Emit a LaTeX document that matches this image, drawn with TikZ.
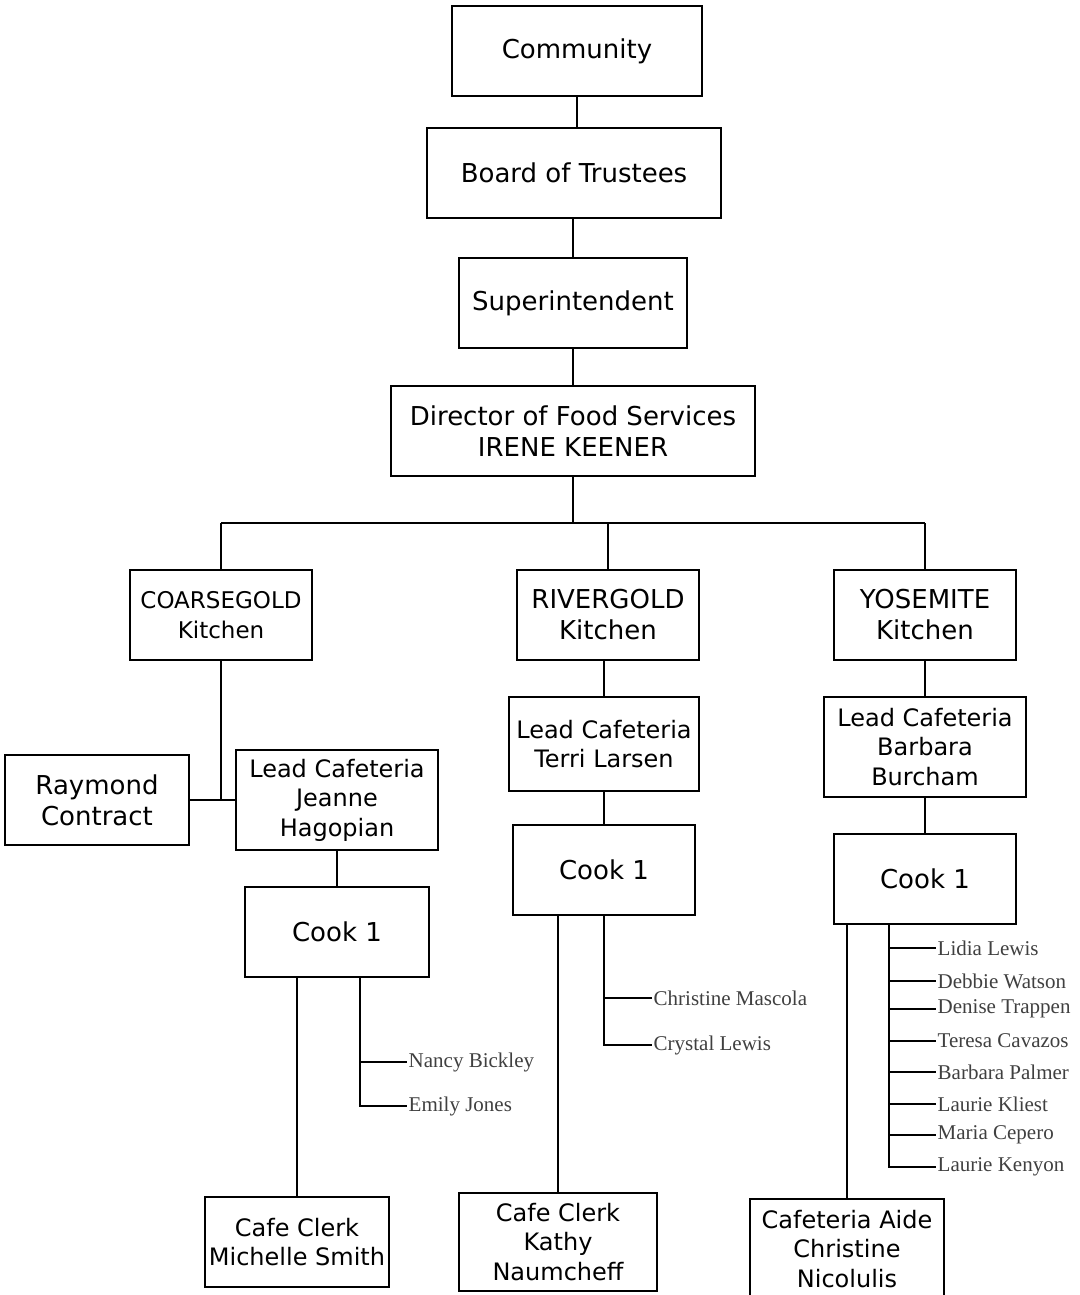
\documentclass[tikz,border=0pt]{standalone}
\usepackage{fontspec}
\newfontfamily\boxfont{DejaVu Sans}
\newfontfamily\namefont{Liberation Serif}
\begin{document}
\begin{tikzpicture}[x=1pt,y=-1pt,
  box/.style={draw, line width=1.8pt, inner sep=0pt, align=center, font=\boxfont\fontsize{26}{31}\selectfont},
  smallbox/.style={box, font=\boxfont\fontsize{24}{29.5}\selectfont},
  coarsebox/.style={box, font=\boxfont\fontsize{23}{30}\selectfont},
  person/.style={anchor=west, inner sep=1.5pt, text=black!75, font=\namefont\fontsize{21}{24}\selectfont},
  link/.style={line width=1.8pt}]
\fill[white] (0,0) rectangle (1079,1295);
\clip (0,0) rectangle (1079,1295);
% top chain
\node[box, minimum width=250pt, minimum height=90pt] (comm) at (577,51) {Community};
\node[box, minimum width=294pt, minimum height=90pt] (board) at (574,173) {Board of Trustees};
\node[box, minimum width=228pt, minimum height=90pt] (sup) at (573,303) {Superintendent};
\node[box, minimum width=364pt, minimum height=90pt] (dir) at (573,431) {Director of Food Services\\IRENE KEENER};
% kitchens
\node[coarsebox, minimum width=182pt, minimum height=90pt] (coarse) at (221,615) {COARSEGOLD\\Kitchen};
\node[box, minimum width=182pt, minimum height=90pt] (river) at (608,615) {RIVERGOLD\\Kitchen};
\node[box, minimum width=182pt, minimum height=90pt] (yos) at (925,615) {YOSEMITE\\Kitchen};
% second level
\node[box, minimum width=184pt, minimum height=90pt] (raymond) at (97,800) {Raymond\\Contract};
\node[smallbox, minimum width=202pt, minimum height=100pt] (leadC) at (337,800) {Lead Cafeteria\\Jeanne\\Hagopian};
\node[smallbox, minimum width=190pt, minimum height=94pt] (leadR) at (604,744) {Lead Cafeteria\\Terri Larsen};
\node[smallbox, minimum width=202pt, minimum height=100pt] (leadY) at (925,747) {Lead Cafeteria\\Barbara\\Burcham};
% cooks
\node[box, minimum width=184pt, minimum height=90pt] (cookC) at (337,932) {Cook 1};
\node[box, minimum width=182pt, minimum height=90pt] (cookR) at (604,870) {Cook 1};
\node[box, minimum width=182pt, minimum height=90pt] (cookY) at (925,879) {Cook 1};
% bottom
\node[smallbox, minimum width=184pt, minimum height=90pt] (clerkC) at (297,1242) {Cafe Clerk\\Michelle Smith};
\node[smallbox, minimum width=198pt, minimum height=98pt] (clerkR) at (558,1242) {Cafe Clerk\\Kathy\\Naumcheff};
\node[smallbox, minimum width=194pt, minimum height=100pt] (aide) at (847,1249) {Cafeteria Aide\\Christine\\Nicolulis};
% names
\node[person] (nb) at (407,1062) {Nancy Bickley};
\node[person] (ej) at (407,1106) {Emily Jones};
\node[person] (cm) at (652,998) {Christine Mascola};
\node[person] (cl) at (652,1045) {Crystal Lewis};
\node[person] (ll) at (936,948) {Lidia Lewis};
\node[person] (dw) at (936,981) {Debbie Watson};
\node[person] (dt) at (936,1009) {Denise Trappen};
\node[person] (tc) at (936,1041) {Teresa Cavazos};
\node[person] (bp) at (936,1072) {Barbara Palmer};
\node[person] (lk) at (936,1104) {Laurie Kliest};
\node[person] (mc) at (936,1135) {Maria Cepero};
\node[person] (lky) at (936,1167) {Laurie Kenyon};
\coordinate (bus) at (573,523);
% connectors top
\draw[link] (comm.south) -- (comm.south |- board.north);
\draw[link] (sup.north) -- (sup.north |- board.south);
\draw[link] (sup.south) -- (sup.south |- dir.north);
\draw[link] (dir.south) -- (bus);
\draw[link] (coarse.north |- bus) -- (yos.north |- bus);
\draw[link] (coarse.north) -- (coarse.north |- bus);
\draw[link] (river.north) -- (river.north |- bus);
\draw[link] (yos.north) -- (yos.north |- bus);
% coarsegold branch
\draw[link] (coarse.south) -- (coarse.south |- raymond.east);
\draw[link] (raymond.east) -- (leadC.west);
\draw[link] (leadC.south) -- (leadC.south |- cookC.north);
\draw[link] (clerkC.north) -- (clerkC.north |- cookC.south);
\draw[link] ([xshift=23pt]cookC.south) |- (nb.west);
\draw[link] ([xshift=23pt]cookC.south) |- (ej.west);
% rivergold branch
\draw[link] (river.south -| leadR.north) -- (leadR.north);
\draw[link] (leadR.south) -- (leadR.south |- cookR.north);
\draw[link] (clerkR.north) -- (clerkR.north |- cookR.south);
\draw[link] (cookR.south) |- (cm.west);
\draw[link] (cookR.south) |- (cl.west);
% yosemite branch
\draw[link] (yos.south) -- (yos.south |- leadY.north);
\draw[link] (leadY.south) -- (leadY.south |- cookY.north);
\draw[link] (aide.north) -- (aide.north |- cookY.south);
\foreach \n in {ll,dw,dt,tc,bp,lk,mc,lky}
  \draw[link] ([xshift=-36pt]cookY.south) |- (\n.west);
\end{tikzpicture}
\end{document}
